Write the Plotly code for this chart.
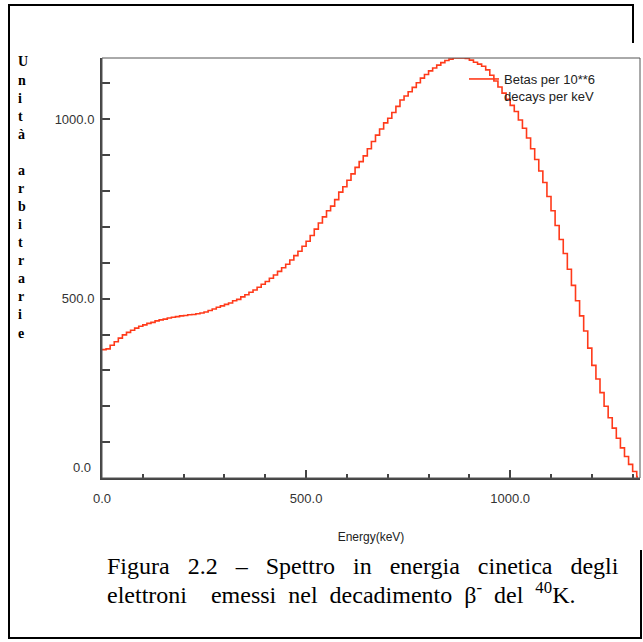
import plotly.graph_objects as go

# ---------------- data ----------------
energy_kev = list(range(0, 1320, 10)) + [1311]
betas = [
    358, 360, 370, 380, 390, 399, 406, 412, 418, 423,      # 0-90
    427, 431, 434, 438, 441, 443, 446, 448, 450, 452,      # 100-190
    453, 455, 456, 458, 460, 463, 467, 471, 476, 480,      # 200-290
    484, 488, 494, 498, 505, 511, 518, 524, 532, 540,      # 300-390
    548, 557, 566, 576, 586, 596, 608, 620, 632, 646,      # 400-490
    660, 676, 694, 711, 728, 745, 758, 776, 797, 812,      # 500-590
    830, 848, 866, 882, 898, 918, 938, 956, 973, 990,      # 600-690
    1003, 1019, 1036, 1054, 1065, 1077, 1089, 1102, 1115, 1125,  # 700-790
    1135, 1143, 1151, 1158, 1164, 1168, 1171, 1171, 1171, 1170,  # 800-890
    1165, 1159, 1154, 1148, 1138, 1123, 1107, 1090, 1073, 1056,  # 900-990
    1039, 1022, 998, 975, 948, 918, 888, 856, 824, 785,    # 1000-1090
    745, 704, 665, 626, 582, 537, 494, 452, 410, 362,      # 1100-1190
    314, 276, 238, 200, 168, 139, 111, 84, 60, 38,         # 1200-1290
    18, 4,                                                 # 1300-1310
    0,                                                     # 1311
]
x_tick_vals = [0, 500, 1000]
x_tick_text = ["0.0", "500.0", "1000.0"]
y_tick_vals = list(range(0, 1200, 100))
y_label_vals = [500, 1000]
legend_name = "Betas per 10**6<br>decays per keV"
x_title = "Energy(keV)"
y_title_letters = list("Unità arbitrarie")
caption_line1_words = ["Figura", "2.2", "–", "Spettro", "in", "energia", "cinetica", "degli"]
caption_line2_words = ["elettroni\u00a0\u00a0\u00a0\u00a0emessi", "nel", "decadimento",
                       "β<sup>-</sup>", "del", "<sup>40</sup>K."]

# ---------------- layout helpers ----------------
W, H = 643, 642
L, R, T, B = 102, 3, 58, 164
PW, PH = W - L - R, H - T - B


def PX(px):
    return (px - L) / PW


def PY(py):
    return (H - B - py) / PH


fig = go.Figure()
fig.add_trace(go.Scatter(
    x=energy_kev, y=betas, mode="lines", line_shape="hv",
    line=dict(color="#ff3a1a", width=1.6), name=legend_name,
))

axis_font = dict(family="Liberation Sans, Arial, sans-serif", size=13, color="#333333")

fig.update_layout(
    width=W, height=H,
    margin=dict(l=L, r=R, t=T, b=B, pad=0),
    paper_bgcolor="white", plot_bgcolor="white",
    showlegend=True,
    legend=dict(
        x=PX(464), y=PY(64), xanchor="left", yanchor="top",
        bgcolor="rgba(0,0,0,0)", borderwidth=0,
        font=dict(family="Liberation Sans, Arial, sans-serif", size=13, color="#222222"),
        valign="top", tracegroupgap=0,
    ),
    xaxis=dict(
        range=[0, 1318], showgrid=False, zeroline=False,
        showline=True, linecolor="#444444", linewidth=2,
        tickmode="array", tickvals=x_tick_vals, ticktext=x_tick_text,
        ticks="inside", ticklen=8, tickwidth=1.5, tickcolor="#444444",
        minor=dict(dtick=100, tick0=0, ticks="inside", ticklen=4, tickwidth=1.5, tickcolor="#444444"),
        tickfont=axis_font, ticklabelstandoff=7,
        title=dict(text=x_title, font=dict(family="Liberation Sans, Arial, sans-serif", size=12, color="#222222"), standoff=28),
    ),
    yaxis=dict(
        range=[0, 1171], showgrid=False, zeroline=False,
        showline=True, linecolor="#444444", linewidth=2,
        tickmode="array", tickvals=y_tick_vals,
        ticktext=[("%.1f" % v) if v in y_label_vals else "" for v in y_tick_vals],
        ticks="inside", ticklen=8, tickwidth=1.5, tickcolor="#444444",
        tickfont=axis_font, ticklabelstandoff=3,
    ),
)

# plot frame (top / right) and page frame lines
shapes = [
    dict(type="rect", xref="paper", yref="paper", x0=0, y0=0, x1=1, y1=1,
         line=dict(color="#555555", width=1)),
    dict(type="line", xref="paper", yref="paper", x0=PX(8), y0=PY(5), x1=PX(634), y1=PY(5),
         line=dict(color="black", width=2)),
    dict(type="line", xref="paper", yref="paper", x0=PX(633), y0=PY(5), x1=PX(633), y1=PY(43),
         line=dict(color="black", width=2)),
    dict(type="line", xref="paper", yref="paper", x0=PX(9), y0=PY(5), x1=PX(9), y1=PY(638),
         line=dict(color="black", width=2)),
    dict(type="line", xref="paper", yref="paper", x0=PX(8), y0=PY(638), x1=PX(642), y1=PY(638),
         line=dict(color="black", width=2)),
    dict(type="line", xref="paper", yref="paper", x0=PX(641), y0=PY(550), x1=PX(641), y1=PY(638),
         line=dict(color="black", width=2)),
]
fig.update_layout(shapes=shapes)

ann = []
# y "0.0" tick label sits a little above its tick
ann.append(dict(x=0, y=0, xref="x", yref="y", text="0.0", showarrow=False,
                xanchor="right", yanchor="middle", xshift=-9, yshift=11, font=axis_font))
# vertical stacked y title
for i, ch in enumerate(y_title_letters):
    if ch == " ":
        continue
    ann.append(dict(x=PX(16), y=PY(62 + i * 18.07), xref="paper", yref="paper", text=ch,
                    showarrow=False, xanchor="left", yanchor="middle",
                    font=dict(family="Liberation Serif, Times New Roman, serif", size=14, color="black",
                              weight="bold")))
cap_font = dict(family="Liberation Serif, Times New Roman, serif", size=24, color="black")
ann.append(dict(x=PX(105), y=PY(566), xref="paper", yref="paper",
                text="\u00a0\u00a0\u00a0".join(caption_line1_words),
                showarrow=False, xanchor="left", yanchor="middle", font=cap_font))
ann.append(dict(x=PX(105), y=PY(593), xref="paper", yref="paper",
                text="\u00a0\u00a0".join(caption_line2_words),
                showarrow=False, xanchor="left", yanchor="middle", font=cap_font))
fig.update_layout(annotations=ann)

fig.write_html("out.html", config={"displayModeBar": False},
               post_script="document.body.style.margin='0px';")
